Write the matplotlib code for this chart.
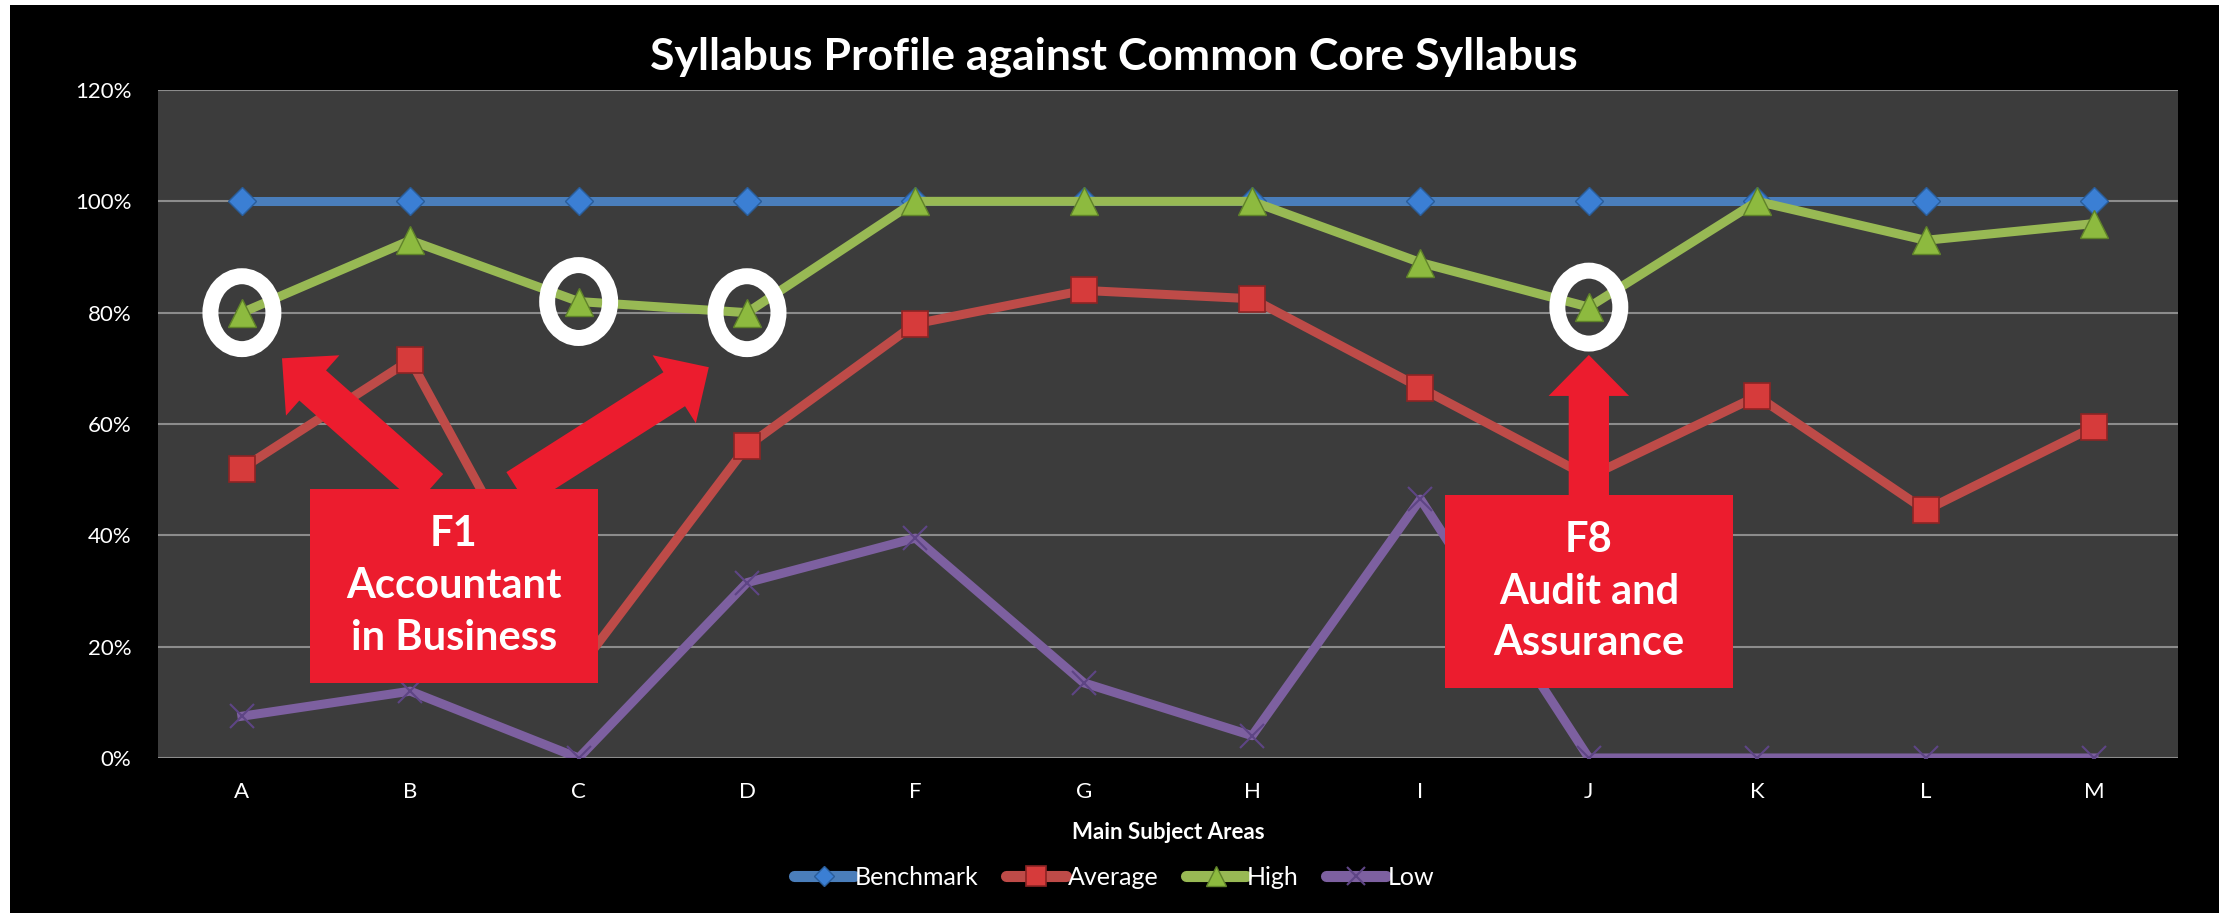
from matplotlib import pyplot as plt
from matplotlib.patches import Rectangle, Ellipse, FancyArrowPatch
import matplotlib.ticker as ticker
import numpy as np

# values (percent)
categories = ['A', 'B', 'C', 'D', 'F', 'G', 'H', 'I', 'J', 'K', 'L', 'M']
benchmark = [100, 100, 100, 100, 100, 100, 100, 100, 100, 100, 100, 100]
average = [52, 71.5, 16, 56, 78, 84, 82.5, 66.5, 50.5, 65, 44.5, 59.5]
high = [80, 93, 82, 80, 100, 100, 100, 89, 81, 100, 93, 96]
low = [7.5, 12, 0, 31.5, 39.5, 13.5, 4, 46.5, 0, 0, 0, 0]

# High points that are circled
circled = ['A', 'C', 'D', 'J']

plt.rcParams['font.family'] = ['Lato', 'DejaVu Sans']

fig = plt.figure(figsize=(22.31, 9.13), dpi=100, facecolor='white')
# black chart area with a thin white margin
fig.patches.append(Rectangle((10 / 2231, 0), 2209 / 2231, 908 / 913,
                             transform=fig.transFigure, facecolor='black',
                             edgecolor='none', zorder=-10))

ax = fig.add_axes([0.0707, 0.1698, 0.9056, 0.7316])
ax.set_facecolor('#3c3c3c')
for s in ax.spines.values():
    s.set_visible(False)

x = np.arange(len(categories))

ax.plot(x, benchmark, color='#4a7ebb', lw=6.5, marker='D', ms=14,
        mfc='#3b7fd4', mec='#2a5d9a', mew=1, label='Benchmark', zorder=3)
ax.plot(x, average, color='#be4b48', lw=6.5, marker='s', ms=19,
        mfc='#d63b3b', mec='#8c2424', mew=1.2, label='Average', zorder=3)
ax.plot(x, high, color='#98b954', lw=6.5, marker='^', ms=20,
        mfc='#8dba3f', mec='#5f8229', mew=1, label='High', zorder=4)
ax.plot(x, low, color='#7d60a0', lw=6.5, marker='x', ms=17,
        mec='#5e4585', mew=1.5, label='Low', zorder=3)

ax.set_xlim(-0.5, len(categories) - 0.5)
ax.set_ylim(0, 120)
ax.yaxis.set_major_locator(ticker.MultipleLocator(20))
ax.yaxis.set_major_formatter(ticker.PercentFormatter(100, decimals=0))
ax.set_xticks(x)
ax.set_xticklabels(categories)
ax.tick_params(length=0, colors='white', labelsize=16)
ax.tick_params(axis='y', pad=19)
ax.tick_params(axis='x', pad=17)
ax.grid(axis='y', color='#8c8c8c', lw=1.5)
ax.set_axisbelow(True)

ax.set_xlabel('Main Subject Areas', color='white', fontsize=16,
              fontweight='bold', labelpad=15)

fig.text(0.4993, 0.9376, 'Syllabus Profile against Common Core Syllabus',
         color='white', fontsize=32, fontweight='bold', ha='center', va='center')

# white rings round the circled High points
for c in circled:
    i = categories.index(c)
    ax.add_patch(Ellipse((i, high[i]), 0.374, 13.1, fill=False,
                         ec='white', lw=11.5, zorder=6))

red = '#ec1c2e'
arrow_style = 'simple,head_length=29.5,head_width=58,tail_width=29'

# F1 call-out box with two arrows
ax.add_patch(FancyArrowPatch((1.116, 48.3), (0.238, 71.8), arrowstyle=arrow_style,
                             mutation_scale=1, fc=red, ec='none',
                             shrinkA=0, shrinkB=0, zorder=7))
ax.add_patch(FancyArrowPatch((1.635, 48.3), (2.773, 70.2), arrowstyle=arrow_style,
                             mutation_scale=1, fc=red, ec='none',
                             shrinkA=0, shrinkB=0, zorder=7))
ax.add_patch(Rectangle((0.404, 13.5), 1.71, 34.8, fc=red, ec='none', zorder=8))
ax.text(1.259, 30.9, 'F1\nAccountant\nin Business', color='white', fontsize=30,
        fontweight='bold', ha='center', va='center', linespacing=1.45, zorder=9)

# F8 call-out box with one arrow
ax.add_patch(FancyArrowPatch((8.0, 47.2), (8.0, 72.4), arrowstyle=arrow_style,
                             mutation_scale=1, fc=red, ec='none',
                             shrinkA=0, shrinkB=0, zorder=7))
ax.add_patch(Rectangle((7.144, 12.6), 1.711, 34.6, fc=red, ec='none', zorder=8))
ax.text(8.0, 29.9, 'F8\nAudit and\nAssurance', color='white', fontsize=30,
        fontweight='bold', ha='center', va='center', linespacing=1.45, zorder=9)

leg = fig.legend(loc='center', bbox_to_anchor=(0.4993, 0.0394), ncol=4,
                 frameon=False, fontsize=18, handlelength=2.4, handletextpad=0.05,
                 columnspacing=1.1, markerscale=0.75, labelcolor='white')
for h in leg.legend_handles:
    h.set_linewidth(8)
    h.set_solid_capstyle('round')

fig.savefig('out.png', dpi=100, facecolor=fig.get_facecolor())
